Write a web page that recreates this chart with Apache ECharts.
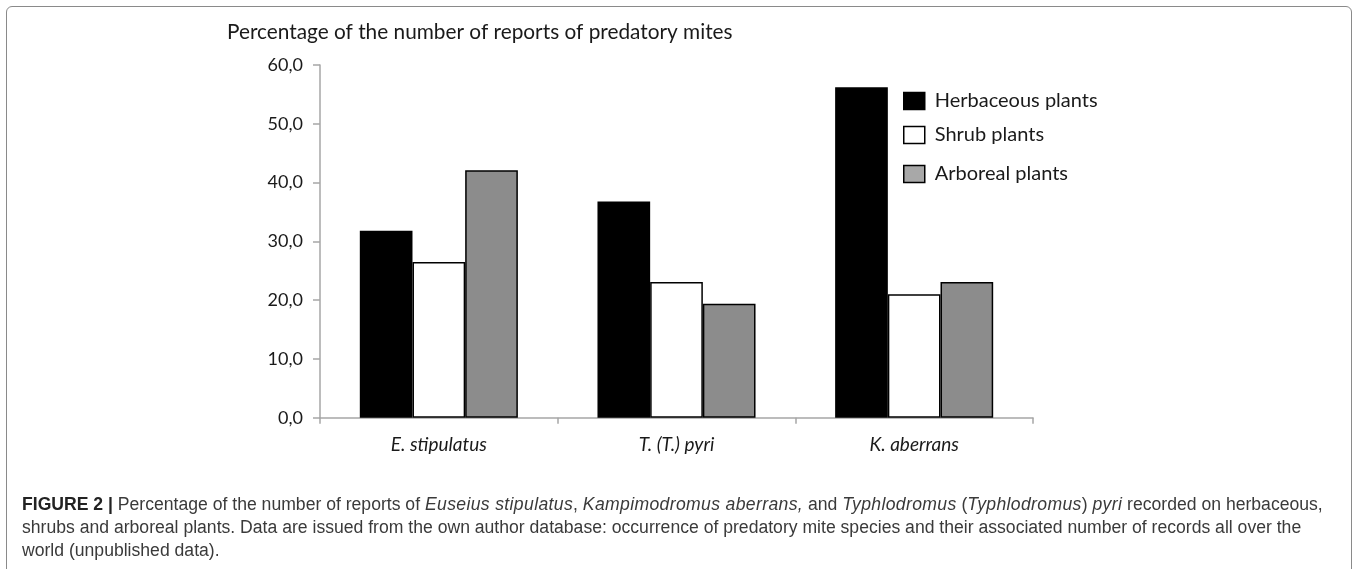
<!DOCTYPE html>
<html>
<head>
<meta charset="utf-8">
<script src="https://cdn.jsdelivr.net/npm/echarts@6/dist/echarts.min.js"></script>
<style>
  html, body { margin:0; padding:0; background:#fff; width:1358px; height:569px; overflow:hidden; }
  #frame { position:absolute; left:6px; top:6px; width:1346px; height:620px; border:1px solid #8a8a8a; border-radius:6px; box-sizing:border-box; }
  #chart { position:absolute; left:0; top:0; width:1358px; height:569px; }
  #caption { position:absolute; left:22px; top:493px; font-family:"Liberation Sans", Arial, sans-serif; font-size:17.6px; line-height:23px; color:#3a3a3a; white-space:nowrap; }
  #caption b { color:#222; }
  #caption .l1 i { letter-spacing:0.35px; }
</style>
</head>
<body>
<div id="frame"></div>
<div id="chart"></div>
<div id="caption"><span class="l1"><b>FIGURE 2 |</b> Percentage of the number of reports of <i>Euseius stipulatus</i>, <i>Kampimodromus aberrans,</i> and <i>Typhlodromus</i> (<i>Typhlodromus</i>) <i>pyri</i> recorded on herbaceous,</span><br>shrubs and arboreal plants. Data are issued from the own author database: occurrence of predatory mite species and their associated number of records all over the<br>world (unpublished data).</div>
<script>
const chartTitle = 'Percentage of the number of reports of predatory mites';
const categories = ['E. stipulatus', 'T. (T.) pyri', 'K. aberrans'];
const seriesNames = ['Herbaceous plants', 'Shrub plants', 'Arboreal plants'];
const herbaceous = [31.8, 36.8, 56.2];
const shrub = [26.5, 23.1, 21.0];
const arboreal = [42.1, 19.4, 23.1];
const yTickLabels = ['0,0', '10,0', '20,0', '30,0', '40,0', '50,0', '60,0'];

const chart = echarts.init(document.getElementById('chart'));
const font = 'Lato, "Open Sans", sans-serif';
const axisColor = '#a6a6a6';
const textColor = '#1a1a1a';
const barBorder = { borderColor: '#000', borderWidth: 1.5 };

function legendFor(name, color, top) {
  return {
    data: [{ name: name, itemStyle: { color: color, borderColor: '#000', borderWidth: 1.5 } }],
    left: 903, top: top, orient: 'vertical', padding: 0,
    icon: 'rect', itemWidth: 21, itemHeight: 17,
    selectedMode: false,
    textStyle: { fontFamily: font, fontSize: 20, lineHeight: 22, color: textColor, padding: [0, 0, 0, 5] }
  };
}

chart.setOption({
  animation: false,
  title: {
    text: chartTitle, left: 227, top: 22, padding: 0,
    textStyle: { fontFamily: font, fontSize: 20.8, fontWeight: 'normal', color: textColor }
  },
  legend: [
    legendFor(seriesNames[0], '#000', 90),
    legendFor(seriesNames[1], '#fff', 124),
    legendFor(seriesNames[2], '#a8a8a8', 163)
  ],
  grid: { left: 320, top: 65, width: 713, height: 352.7, containLabel: false },
  xAxis: {
    type: 'category', data: categories,
    axisLine: { lineStyle: { color: axisColor, width: 1.5 } },
    axisTick: { show: true, length: 6, lineStyle: { color: axisColor, width: 1.5 } },
    axisLabel: { fontFamily: font, fontStyle: 'italic', fontSize: 19, color: textColor, margin: 18 }
  },
  yAxis: {
    type: 'value', min: 0, max: 60, interval: 10,
    splitLine: { show: false },
    axisLine: { show: true, lineStyle: { color: axisColor, width: 1.5 } },
    axisTick: { show: true, length: 7, lineStyle: { color: axisColor, width: 1.5 } },
    axisLabel: { fontFamily: font, fontSize: 18, color: textColor, margin: 17,
      formatter: function (v) { return yTickLabels[Math.round(v / 10)]; } }
  },
  series: [
    { type: 'bar', name: seriesNames[0], data: herbaceous, barGap: '0%', barCategoryGap: '33.5%',
      itemStyle: Object.assign({ color: '#000' }, barBorder) },
    { type: 'bar', name: seriesNames[1], data: shrub, barGap: '0%', barCategoryGap: '33.5%',
      itemStyle: Object.assign({ color: '#fff' }, barBorder) },
    { type: 'bar', name: seriesNames[2], data: arboreal, barGap: '0%', barCategoryGap: '33.5%',
      itemStyle: Object.assign({ color: '#8c8c8c' }, barBorder) }
  ]
});
</script>
</body>
</html>
